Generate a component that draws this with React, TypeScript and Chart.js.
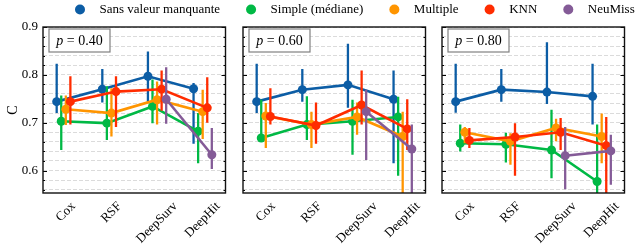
import React, { useEffect, useRef } from "react";
import { Chart, registerables } from "chart.js";

Chart.register(...registerables);

// ---------- data ----------
const categories = ["Cox", "RSF", "DeepSurv", "DeepHit"];
const seriesNames = ["Sans valeur manquante", "Simple (médiane)", "Multiple", "KNN", "NeuMiss"];
const seriesColors = ["#0C5DA5", "#00B945", "#FF9500", "#FF2C00", "#845B97"];
const panelLabels = ["0.40", "0.60", "0.80"];
const yMajorTicks = [0.6, 0.7, 0.8, 0.9];
const yMinorTicks = [0.56, 0.58, 0.62, 0.64, 0.66, 0.68, 0.72, 0.74, 0.76, 0.78, 0.82, 0.84, 0.86, 0.88];
const yMin = 0.553;
const yMax = 0.9;

// p = 0.40 : rows = series, columns = categories
const p40Mean = [
  [0.744, 0.770, 0.797, 0.771],
  [0.703, 0.699, 0.734, 0.682],
  [0.728, 0.720, 0.748, 0.723],
  [0.744, 0.765, 0.770, 0.731],
  [null, null, 0.749, 0.633],
];
const p40Low = [
  [0.720, 0.742, 0.744, 0.656],
  [0.643, 0.664, 0.699, 0.615],
  [0.695, 0.671, 0.696, 0.666],
  [0.696, 0.691, 0.725, 0.700],
  [null, null, 0.698, 0.603],
];
const p40High = [
  [0.823, 0.812, 0.849, 0.783],
  [0.757, 0.776, 0.790, 0.720],
  [0.757, 0.772, 0.786, 0.769],
  [0.797, 0.797, 0.809, 0.795],
  [null, null, 0.816, 0.689],
];

// p = 0.60
const p60Mean = [
  [0.744, 0.769, 0.779, 0.749],
  [0.668, 0.696, 0.703, 0.712],
  [0.714, 0.696, 0.712, 0.671],
  [0.713, 0.694, 0.737, 0.687],
  [null, null, 0.723, 0.645],
];
const p60Low = [
  [0.720, 0.744, 0.731, 0.615],
  [0.660, 0.664, 0.633, 0.589],
  [0.647, 0.647, 0.675, 0.540],
  [0.696, 0.656, 0.696, 0.643],
  [null, null, 0.622, 0.540],
];
const p60High = [
  [0.823, 0.812, 0.865, 0.809],
  [0.748, 0.755, 0.748, 0.754],
  [0.741, 0.723, 0.742, 0.723],
  [0.772, 0.742, 0.809, 0.749],
  [null, null, 0.769, 0.696],
];

// p = 0.80
const p80Mean = [
  [0.744, 0.769, 0.764, 0.755],
  [0.657, 0.655, 0.643, 0.577],
  [0.680, 0.661, 0.689, 0.671],
  [0.663, 0.670, 0.680, 0.652],
  [null, null, 0.631, 0.641],
];
const p80Low = [
  [0.721, 0.744, 0.739, 0.696],
  [0.640, 0.617, 0.584, 0.540],
  [0.657, 0.612, 0.661, 0.615],
  [0.647, 0.589, 0.643, 0.540],
  [null, null, 0.561, 0.570],
];
const p80High = [
  [0.823, 0.812, 0.868, 0.823],
  [0.696, 0.679, 0.727, 0.696],
  [0.691, 0.678, 0.708, 0.719],
  [0.689, 0.699, 0.710, 0.712],
  [null, null, 0.691, 0.675],
];

const panelMeans = [p40Mean, p60Mean, p80Mean];
const panelLows = [p40Low, p60Low, p80Low];
const panelHighs = [p40High, p60High, p80High];

// ---------- layout ----------
const W = 638;
const H = 248;
const panelLefts = [43, 243, 442];
const panelWidth = 182.5;
const plotTop = 27;
const plotBottom = 193;
const dodge = [-0.2, -0.1, 0, 0.1, 0.2];
const FONT = '"Liberation Serif", "Times New Roman", serif';

const allYTicks = [...yMajorTicks, ...yMinorTicks].sort((a, b) => a - b);
const isMajor = (v: number) => yMajorTicks.some((m) => Math.abs(m - v) < 1e-6);

const decorPlugin = {
  id: "panelDecor",
  afterDraw(chart: any, _args: any, opts: any) {
    const { ctx, chartArea: a } = chart;
    const x = chart.scales.x;
    const y = chart.scales.y;
    ctx.save();
    // inward ticks, left and right
    ctx.strokeStyle = "#000";
    ctx.lineWidth = 1;
    allYTicks.forEach((v) => {
      const py = Math.round(y.getPixelForValue(v)) + 0.5;
      const len = isMajor(v) ? 4 : 2;
      ctx.beginPath();
      ctx.moveTo(a.left, py);
      ctx.lineTo(a.left + len, py);
      ctx.moveTo(a.right, py);
      ctx.lineTo(a.right - len, py);
      ctx.stroke();
    });
    // frame
    ctx.lineWidth = 1.4;
    ctx.strokeStyle = "#111";
    ctx.strokeRect(a.left, a.top, a.right - a.left, a.bottom - a.top);

    ctx.fillStyle = "#000";
    // y tick labels (first panel only)
    if (opts.showTitle) {
      ctx.font = `13px ${FONT}`;
      ctx.textAlign = "right";
      ctx.textBaseline = "middle";
      yMajorTicks.forEach((v) => {
        ctx.fillText(v.toFixed(1), a.left - 5, y.getPixelForValue(v));
      });
    }

    // x tick labels, rotated 45°, centered on the tick
    ctx.font = `13px ${FONT}`;
    ctx.textAlign = "center";
    ctx.textBaseline = "middle";
    categories.forEach((c, i) => {
      const w = ctx.measureText(c).width;
      const bb = (w + 15) * Math.SQRT1_2;
      const cx = x.getPixelForValue(i);
      const cy = a.bottom + 6 + bb / 2;
      ctx.save();
      ctx.translate(cx, cy);
      ctx.rotate(-Math.PI / 4);
      ctx.fillText(c, 0, 0);
      ctx.restore();
    });

    // annotation box "p = ..."
    const bx = a.left + 6;
    const by = a.top + 2;
    const bw = 61;
    const bh = 23;
    ctx.fillStyle = "#fff";
    ctx.fillRect(bx, by, bw, bh);
    ctx.strokeStyle = "#808080";
    ctx.lineWidth = 1.2;
    ctx.strokeRect(bx, by, bw, bh);
    ctx.fillStyle = "#000";
    ctx.textAlign = "left";
    ctx.textBaseline = "middle";
    const italic = `italic 14px ${FONT}`;
    const roman = `14px ${FONT}`;
    const rest = " = " + opts.label;
    ctx.font = italic;
    const w1 = ctx.measureText("p").width;
    ctx.font = roman;
    const w2 = ctx.measureText(rest).width;
    let tx = bx + bw / 2 - (w1 + w2) / 2;
    const ty = by + bh / 2 + 0.5;
    ctx.font = italic;
    ctx.fillText("p", tx, ty);
    tx += w1;
    ctx.font = roman;
    ctx.fillText(rest, tx, ty);

    if (opts.showTitle) {
      // y-axis title
      ctx.save();
      ctx.translate(13, (a.top + a.bottom) / 2);
      ctx.rotate(-Math.PI / 2);
      ctx.textAlign = "center";
      ctx.textBaseline = "middle";
      ctx.font = `14px ${FONT}`;
      ctx.fillText("C", 0, 0);
      ctx.restore();

      // shared legend across the top
      ctx.font = `13px ${FONT}`;
      ctx.textAlign = "left";
      ctx.textBaseline = "middle";
      let lx = 75;
      const ly = 9.5;
      seriesNames.forEach((n, i) => {
        ctx.fillStyle = seriesColors[i];
        ctx.beginPath();
        ctx.arc(lx + 5, ly, 5, 0, Math.PI * 2);
        ctx.fill();
        ctx.fillStyle = "#000";
        const textX = lx + 24.5;
        ctx.fillText(n, textX, ly);
        lx = textX + ctx.measureText(n).width + 26;
      });
    }
    ctx.restore();
  },
};

function buildConfig(p: number): any {
  const means = panelMeans[p];
  const lows = panelLows[p];
  const highs = panelHighs[p];
  const datasets: any[] = [];
  seriesNames.forEach((name, s) => {
    const color = seriesColors[s];
    const errData: any[] = [];
    categories.forEach((_c, i) => {
      const lo = lows[s][i];
      const hi = highs[s][i];
      if (lo == null || hi == null) return;
      const xv = i + dodge[s];
      errData.push({ x: xv, y: lo }, { x: xv, y: hi }, { x: xv, y: null });
    });
    datasets.push({
      label: name + " IC",
      data: errData,
      borderColor: color,
      borderWidth: 2.3,
      pointRadius: 0,
      pointHoverRadius: 0,
      spanGaps: false,
      fill: false,
      order: 100 - 2 * s,
    });
    datasets.push({
      label: name,
      data: means[s].map((v, i) => ({ x: i + dodge[s], y: v })),
      borderColor: color,
      backgroundColor: color,
      borderWidth: 2.6,
      pointRadius: 4.5,
      pointHoverRadius: 4.5,
      pointBackgroundColor: color,
      pointBorderWidth: 0,
      spanGaps: false,
      fill: false,
      order: 99 - 2 * s,
    });
  });

  const left = panelLefts[p];
  return {
    type: "line",
    data: { datasets },
    plugins: [decorPlugin],
    options: {
      responsive: false,
      animation: false,
      events: [],
      layout: {
        padding: {
          left,
          right: W - left - panelWidth,
          top: plotTop,
          bottom: H - plotBottom,
        },
      },
      plugins: {
        legend: { display: false },
        tooltip: { enabled: false },
        panelDecor: { label: panelLabels[p], showTitle: p === 0 },
      },
      scales: {
        x: { type: "linear", min: -0.5, max: 3.5, display: false },
        y: {
          type: "linear",
          min: yMin,
          max: yMax,
          afterBuildTicks: (scale: any) => {
            scale.ticks = allYTicks.map((v) => ({ value: v }));
          },
          afterFit: (scale: any) => {
            scale.width = 0;
          },
          grid: { color: "#d2d2d2", lineWidth: 0.8, drawTicks: false },
          border: { display: false, dash: [4, 2] },
          ticks: { display: false },
        },
      },
    },
  };
}

export default function App() {
  const r0 = useRef<HTMLCanvasElement>(null);
  const r1 = useRef<HTMLCanvasElement>(null);
  const r2 = useRef<HTMLCanvasElement>(null);
  const refs = [r0, r1, r2];

  useEffect(() => {
    const charts = refs.map((r, i) => new Chart(r.current as HTMLCanvasElement, buildConfig(i)));
    return () => charts.forEach((c) => c.destroy());
  }, []);

  return (
    <div
      style={{
        position: "absolute",
        left: 0,
        top: 0,
        width: W,
        height: H,
        background: "#fff",
        overflow: "hidden",
      }}
    >
      {refs.map((r, i) => (
        <canvas
          key={i}
          ref={r}
          width={W}
          height={H}
          style={{ position: "absolute", left: 0, top: 0 }}
        />
      ))}
    </div>
  );
}
